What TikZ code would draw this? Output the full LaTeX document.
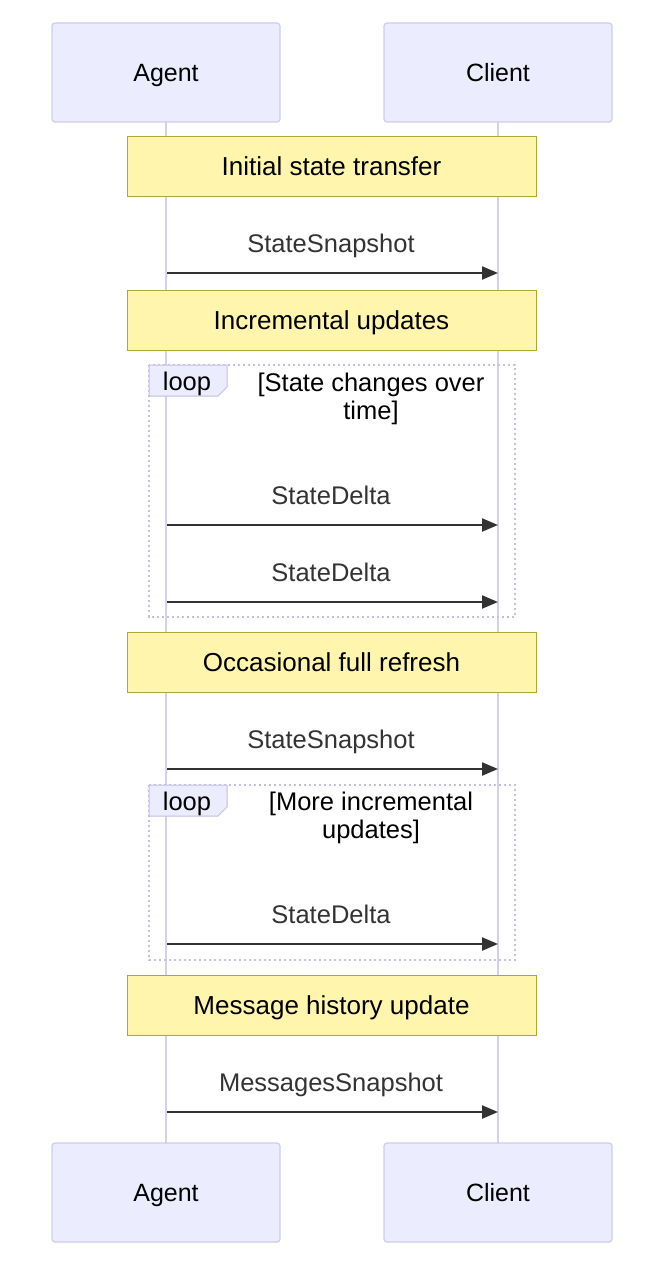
\documentclass[tikz,border=0pt]{standalone}
\usepackage{fontspec}
\setmainfont{Liberation Sans}
\usetikzlibrary{arrows.meta}
\definecolor{actfill}{HTML}{ECECFF}
\definecolor{actdraw}{HTML}{CFCBEF}
\definecolor{lifeline}{HTML}{D6D0EC}
\definecolor{notefill}{HTML}{FFF5AD}
\definecolor{notedraw}{HTML}{AAAA33}
\definecolor{msgcol}{HTML}{333333}
\definecolor{loopdraw}{HTML}{C4BEE2}
\tikzset{
  fixedtext/.style={text height=18pt, text depth=0pt},
  actor/.style={draw=actdraw, fill=actfill, line width=1.2pt, rounded corners=3pt,
    minimum width=228pt, minimum height=99pt, inner sep=0pt, fixedtext,
    font=\fontsize{25}{29}\selectfont, text=black},
  notebox/.style={draw=notedraw, fill=notefill, line width=1pt,
    minimum width=409pt, minimum height=60pt, inner sep=0pt, fixedtext,
    font=\fontsize{26}{30}\selectfont, text=black},
  msglabel/.style={font=\fontsize{25.5}{29}\selectfont, text=msgcol, inner sep=0pt, fixedtext},
  msg/.style={draw=msgcol, line width=2.2pt, -{Triangle[length=16pt,width=13pt]}},
  life/.style={draw=lifeline, line width=2.4pt},
  loopframe/.style={draw=loopdraw, line width=2.4pt, dash pattern=on 2.4pt off 2.6pt},
  looptab/.style={draw=loopdraw, fill=actfill, line width=1pt},
  looptext/.style={font=\fontsize{25.5}{28}\selectfont, text=black, inner sep=0pt, align=center}
}
\begin{document}
\begin{tikzpicture}[x=1pt,y=-1pt]
\useasboundingbox (0,0) rectangle (660,1276);
% lifelines
\coordinate (aTop) at (166,122);
\coordinate (aBot) at (166,1143);
\coordinate (cTop) at (498,122);
\coordinate (cBot) at (498,1143);
\draw[life] (aTop) -- (aBot);
\draw[life] (cTop) -- (cBot);
% actors
\node[actor] (agentT) at (166,72.5) {Agent};
\node[actor] (clientT) at (498,72.5) {Client};
\node[actor] (agentB) at (166,1192.5) {Agent};
\node[actor] (clientB) at (498,1192.5) {Client};
% loop frames
\draw[loopframe] (149,365) rectangle (515,617);
\draw[looptab] (149,365) -- (227,365) -- (227,387) -- (218,396) -- (149,396) -- cycle;
\node[looptext] (loop1) at (187,384) {loop};
\node[looptext] (cond1) at (371,399) {[State changes over\\time]};
\draw[loopframe] (149,785) rectangle (515,960);
\draw[looptab] (149,785) -- (227,785) -- (227,807) -- (218,816) -- (149,816) -- cycle;
\node[looptext] (loop2) at (187,804) {loop};
\node[looptext] (cond2) at (371,818) {[More incremental\\updates]};
% notes
\node[notebox] (n1) at (331.5,167) {Initial state transfer};
\node[notebox] (n2) at (331.5,320) {Incremental updates};
\node[notebox] (n3) at (331.5,662.5) {Occasional full refresh};
\node[notebox] (n4) at (331.5,1005.5) {Message history update};
% messages
\coordinate (s1) at (167,273); \coordinate (e1) at (498,273);
\draw[msg] (s1) -- (e1);
\node[msglabel] (l1) at (331,243) {StateSnapshot};
\coordinate (s2) at (167,525); \coordinate (e2) at (498,525);
\draw[msg] (s2) -- (e2);
\node[msglabel] (l2) at (331,495) {StateDelta};
\coordinate (s3) at (167,602); \coordinate (e3) at (498,602);
\draw[msg] (s3) -- (e3);
\node[msglabel] (l3) at (331,572) {StateDelta};
\coordinate (s4) at (167,769); \coordinate (e4) at (498,769);
\draw[msg] (s4) -- (e4);
\node[msglabel] (l4) at (331,739) {StateSnapshot};
\coordinate (s5) at (167,944); \coordinate (e5) at (498,944);
\draw[msg] (s5) -- (e5);
\node[msglabel] (l5) at (331,914) {StateDelta};
\coordinate (s6) at (167,1112); \coordinate (e6) at (498,1112);
\draw[msg] (s6) -- (e6);
\node[msglabel] (l6) at (331,1082) {MessagesSnapshot};
\end{tikzpicture}
\end{document}
